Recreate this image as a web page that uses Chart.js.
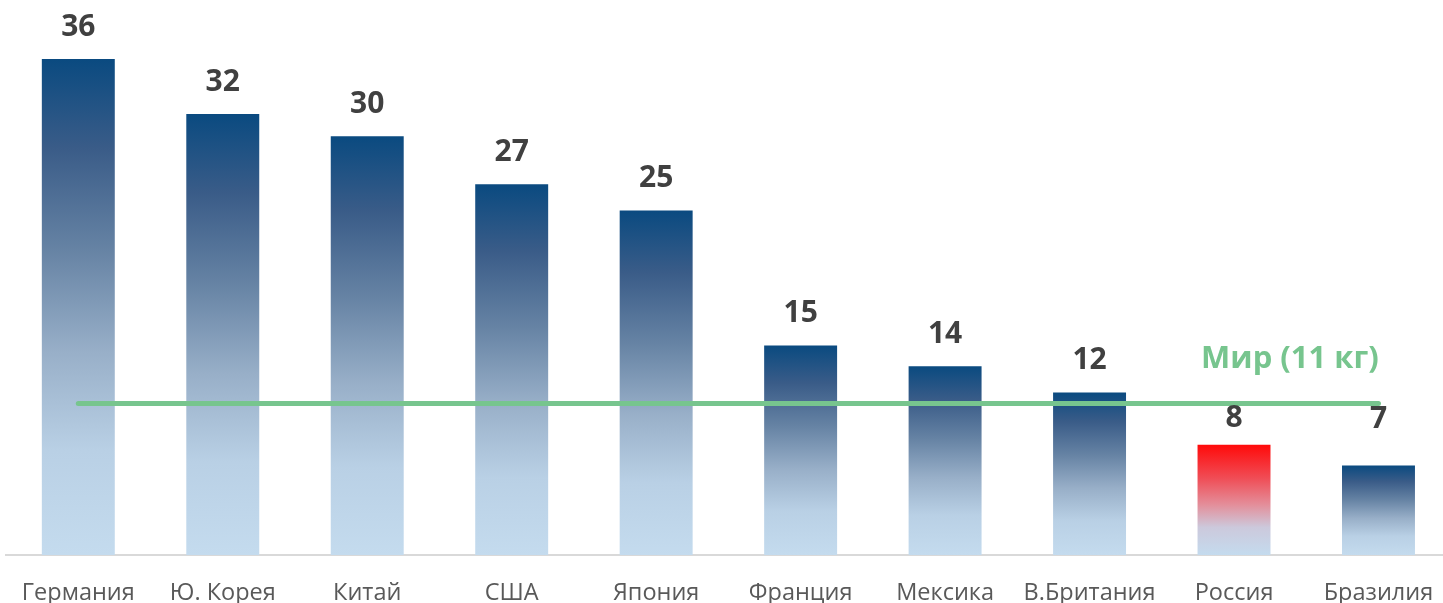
<!DOCTYPE html>
<html lang="ru">
<head>
<meta charset="UTF-8">
<title>Chart</title>
<script src="https://cdn.jsdelivr.net/npm/chart.js"></script>
<style>
  html, body { margin: 0; padding: 0; background: #fff; overflow: hidden; }
  #wrap { position: absolute; left: -2px; top: 0; width: 1459px; height: 603px; }
</style>
</head>
<body>
<div id="wrap"><canvas id="chart"></canvas></div>
<script>
const countries = ["Германия", "Ю. Корея", "Китай", "США", "Япония", "Франция", "Мексика", "В.Британия", "Россия", "Бразилия"];
// bar heights; labels show them rounded
const values = [36, 32, 30.4, 26.9, 25, 15.2, 13.7, 11.8, 8, 6.5];
const valueLabels = ["36", "32", "30", "27", "25", "15", "14", "12", "8", "7"];
const worldValue = 11;
const worldLabel = "Мир (11 кг)";
const highlight = "Россия";

const blueStops = [[0, "#0a4a80"], [0.18, "#3a5c88"], [0.385, "#6683a4"], [0.59, "#98afc8"], [0.79, "#b9d0e5"], [1, "#c4dbee"]];
const redStops = [[0, "#ff0a0a"], [0.3, "#f04c55"], [0.55, "#e3909c"], [0.75, "#ccc9dc"], [1, "#c4dbee"]];

// a couple of labels were nudged by hand in the original
const labelNudge = { 8: 6, 9: -14 };

function barGradient(ctx) {
  const chart = ctx.chart;
  const yScale = chart.scales && chart.scales.y;
  if (!chart.chartArea || !yScale || ctx.dataIndex === undefined) return "#1a4a7e";
  const top = yScale.getPixelForValue(values[ctx.dataIndex]);
  const bottom = yScale.getPixelForValue(0);
  if (!isFinite(top) || !isFinite(bottom)) return "#1a4a7e";
  const g = chart.ctx.createLinearGradient(0, top, 0, bottom);
  const stops = countries[ctx.dataIndex] === highlight ? redStops : blueStops;
  stops.forEach(s => g.addColorStop(s[0], s[1]));
  return g;
}

const labelsPlugin = {
  id: "valueLabels",
  afterDatasetsDraw(chart) {
    const c = chart.ctx;
    const meta = chart.getDatasetMeta(0);
    c.save();
    c.font = "bold 30px 'Open Sans', sans-serif";
    c.fillStyle = "#404040";
    c.textAlign = "center";
    c.textBaseline = "middle";
    meta.data.forEach((bar, i) => {
      c.fillText(valueLabels[i], bar.x, bar.y - 32 + (labelNudge[i] || 0));
    });
    const y = chart.scales.y.getPixelForValue(worldValue);
    c.font = "bold 31px 'Open Sans', sans-serif";
    c.fillStyle = "#77c58e";
    c.fillText(worldLabel, 1292, y - 44);
    c.restore();
  }
};

new Chart(document.getElementById("chart"), {
  type: "bar",
  data: {
    labels: countries,
    datasets: [{
      data: values,
      backgroundColor: barGradient,
      barPercentage: 0.505,
      categoryPercentage: 1,
      order: 2
    }, {
      type: "line",
      data: countries.map(() => worldValue),
      borderColor: "#77c58e",
      borderWidth: 5,
      borderCapStyle: "round",
      pointRadius: 0,
      fill: false,
      order: 1
    }]
  },
  options: {
    responsive: true,
    maintainAspectRatio: false,
    animation: false,
    layout: { padding: { left: 3.3, right: 0, top: 0, bottom: 0 } },
    plugins: { legend: { display: false }, tooltip: { enabled: false } },
    scales: {
      x: {
        grid: { display: false, drawTicks: false },
        border: { display: true, color: "#d9d9d9", width: 2 },
        ticks: { color: "#595959", font: { size: 23.5, family: "'Open Sans', sans-serif" }, padding: 24 },
        afterFit(scale) { scale.height = 48; }
      },
      y: {
        display: false,
        min: 0,
        max: 40.28
      }
    }
  },
  plugins: [labelsPlugin]
});
</script>
</body>
</html>
